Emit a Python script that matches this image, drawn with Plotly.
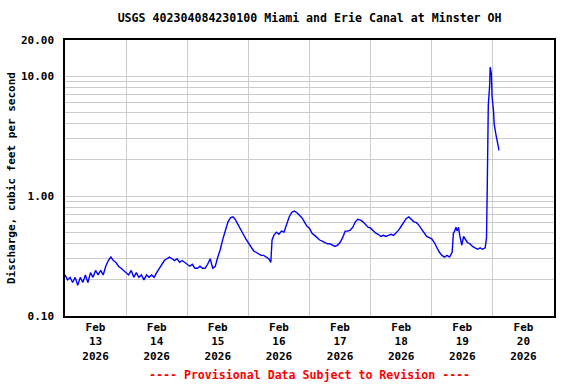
import pandas as pd
import plotly.graph_objects as go

TITLE = "USGS 402304084230100 Miami and Erie Canal at Minster OH"
Y_TITLE = "Discharge, cubic feet per second"
FOOTER = "---- Provisional Data Subject to Revision ----"
START = "2026-02-13 00:00"

# hours after START
HOURS = [0, 1, 2, 3, 4, 5, 6, 7, 8, 9, 10, 11, 12, 13, 14, 15, 16, 17, 18, 19, 20, 21, 22, 23,
         24, 25, 26, 27, 28, 29, 30, 31, 32, 33, 34, 35, 36, 37, 38, 39, 40, 41, 42, 43, 44, 45, 46, 47,
         48, 49, 50, 51, 52, 53, 54, 55, 56, 57, 58, 59, 60, 61, 62, 63, 64, 65, 66, 67, 68, 69, 70, 71,
         72, 73, 74, 75, 76, 77, 78, 79, 80, 80.8, 81.3, 82, 83, 84, 85, 86, 87, 88, 89, 90, 91, 92, 93, 94, 95,
         96, 97, 98, 99, 100, 101, 102, 103, 104, 105, 106, 107, 108, 109, 110, 111, 112, 113, 114, 115,
         116, 117, 118, 119,
         120, 121, 122, 123, 124, 125, 126, 127, 128, 129, 130, 131, 132, 133, 134, 135, 136, 137, 138,
         139, 140, 141, 142, 143,
         144, 145, 146, 147, 148, 149, 150, 151, 152, 152.5, 153, 153.5, 154, 154.5, 155, 155.8, 156.5,
         157, 158, 159, 160, 161, 162, 163, 164, 165, 165.5, 165.8, 166.2, 166.7, 166.95, 167.4, 167.7,
         168.3, 168.5, 169.1, 169.5, 169.9, 170.4]

DISCHARGE = [0.22, 0.20, 0.21, 0.19, 0.21, 0.18, 0.21, 0.19, 0.22, 0.19, 0.23, 0.21, 0.24, 0.22, 0.24, 0.22,
             0.26, 0.29, 0.31, 0.29, 0.28, 0.26, 0.25, 0.24,
             0.23, 0.22, 0.24, 0.21, 0.23, 0.21, 0.22, 0.20, 0.22, 0.21, 0.22, 0.21, 0.23, 0.25, 0.27, 0.29,
             0.30, 0.31, 0.30, 0.29, 0.30, 0.28, 0.29, 0.28,
             0.27, 0.26, 0.27, 0.25, 0.25, 0.26, 0.25, 0.25, 0.27, 0.30, 0.25, 0.26, 0.31, 0.36, 0.44, 0.53,
             0.61, 0.66, 0.67, 0.63, 0.57, 0.52, 0.48, 0.44,
             0.41, 0.38, 0.35, 0.34, 0.33, 0.32, 0.32, 0.31, 0.30, 0.28, 0.43, 0.47, 0.50, 0.48, 0.51, 0.50,
             0.58, 0.67, 0.73, 0.75, 0.73, 0.70, 0.66, 0.61, 0.56,
             0.54, 0.49, 0.47, 0.45, 0.43, 0.42, 0.41, 0.40, 0.40, 0.39, 0.38, 0.39, 0.41, 0.45, 0.51, 0.51,
             0.52, 0.55, 0.61, 0.64, 0.63, 0.61, 0.58, 0.55,
             0.54, 0.51, 0.49, 0.48, 0.46, 0.47, 0.46, 0.47, 0.48, 0.47, 0.49, 0.52, 0.56, 0.61, 0.65, 0.67,
             0.64, 0.61, 0.60, 0.57, 0.53, 0.49, 0.46, 0.45,
             0.44, 0.41, 0.37, 0.34, 0.32, 0.31, 0.32, 0.31, 0.34, 0.49, 0.51, 0.55, 0.51, 0.55, 0.47, 0.39,
             0.46, 0.44, 0.41, 0.40, 0.38, 0.37, 0.36, 0.37, 0.36, 0.37, 0.45, 1.2, 5.7, 8.1, 11.9, 10.5,
             6.7, 5.0, 4.0, 3.35, 3.05, 2.8, 2.4]

Y_TICKS = [0.1, 1, 10, 20]
Y_TICKTEXT = ["0.10", "1.00", "10.00", "20.00"]
Y_MINOR = [0.2, 0.3, 0.4, 0.5, 0.6, 0.7, 0.8, 0.9, 2, 3, 4, 5, 6, 7, 8, 9]

times = pd.Timestamp(START) + pd.to_timedelta(HOURS, unit="h")

FONT = "DejaVu Sans Mono"

fig = go.Figure()
fig.add_trace(go.Scatter(x=times, y=DISCHARGE, mode="lines",
                         line=dict(color="#0000ff", width=1.4), showlegend=False))

fig.update_layout(
    width=576, height=384,
    margin=dict(l=65, r=22, t=40, b=68),
    paper_bgcolor="white", plot_bgcolor="white",
    font=dict(family=FONT, size=11, color="black"),
    title=dict(text="<b>" + TITLE + "</b>", x=0.5375, xanchor="center", y=0.952, yanchor="middle",
               font=dict(family=FONT, size=11.6, color="black")),
)

fig.update_xaxes(
    type="date",
    range=["2026-02-13", "2026-02-21"],
    dtick=86400000, tick0="2026-02-13",
    ticklabelmode="period",
    tickformat="<b>%b<br>%d<br>%Y</b>",
    showgrid=True, gridcolor="#cccccc", gridwidth=1,
    showline=True, linecolor="black", linewidth=1.5, mirror=True,
    ticks="", zeroline=False,
    tickfont=dict(family=FONT, size=11, color="black"),
)

fig.update_yaxes(
    type="log",
    range=[-1, 1.30103],
    tickmode="array", tickvals=Y_TICKS, ticktext=["<b>%s</b>" % t for t in Y_TICKTEXT],
    showgrid=True, gridcolor="#cccccc", gridwidth=1,
    minor=dict(tickmode="array", tickvals=Y_MINOR, showgrid=True, gridcolor="#cccccc", gridwidth=1),
    showline=True, linecolor="black", linewidth=1.5, mirror=True,
    ticks="", ticklabelstandoff=7, zeroline=False,
    tickfont=dict(family=FONT, size=11, color="black"),
)

fig.add_annotation(text="<b>" + Y_TITLE + "</b>", textangle=-90,
                   xref="paper", yref="paper", x=(11 - 65) / 489, y=0.5,
                   xanchor="center", yanchor="middle", showarrow=False,
                   font=dict(family=FONT, size=11, color="black"))

fig.add_annotation(text="<b>" + FOOTER + "</b>",
                   xref="paper", yref="paper", x=0.5, y=-(375 - 316) / 276,
                   xanchor="center", yanchor="middle", showarrow=False,
                   font=dict(family=FONT, size=11.6, color="#ff0000"))

fig.write_html("out.html", config={"displayModeBar": False},
               post_script="document.body.style.margin='0';")
